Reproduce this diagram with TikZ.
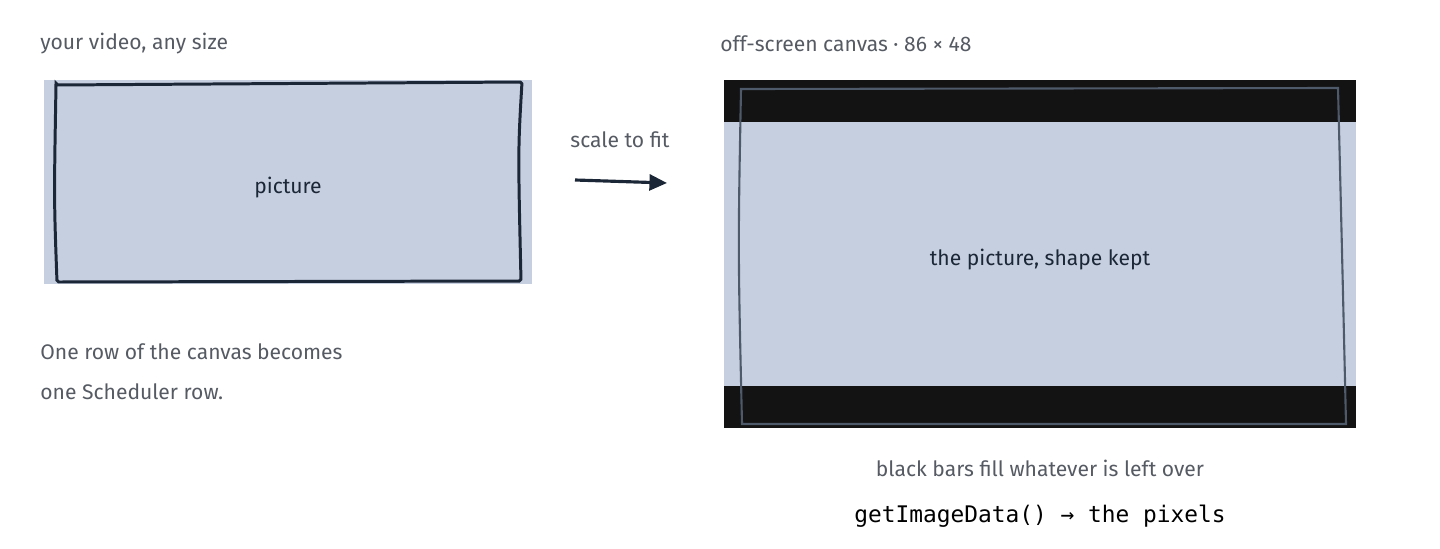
\documentclass[tikz,border=0pt]{standalone}
\usepackage{fontspec}
\setmainfont{Fira Sans}
\setmonofont{DejaVu Sans Mono}
\usetikzlibrary{arrows.meta,positioning}
\definecolor{paper}{HTML}{C5CFE0}
\definecolor{ink}{HTML}{1B2636}
\definecolor{note}{HTML}{555A63}
\definecolor{bar}{HTML}{131313}
\tikzset{
    label text/.style = {font=\fontsize{12}{14}\selectfont, text=note, anchor=west, inner sep=0pt},
    box text/.style = {font=\fontsize{12}{14}\selectfont, text=ink, inner sep=0pt},
    sketch/.style = {draw=ink, line width=1.7pt, rounded corners=1pt}
}
\begin{document}
\begin{tikzpicture}[x=0.02cm, y=-0.02cm]
    \useasboundingbox (0,0) rectangle (1440,548);

%left picture
    \fill[paper] (44,80) rectangle (532,284);
    \draw[sketch] (56,85) -- (522,82) .. controls (518,150) .. (521,281)
        -- (57,282) .. controls (54,200) .. (56,85) -- cycle;
    \node[box text] (pic) at (288,188) {picture};

%labels
    \node[label text] (video) at (40,44) {your video, any size};
    \node[label text] (row1) at (40,352) {One row of the canvas becomes};
    \node[label text] (row2) at (40,392) {one Scheduler row.};

%arrow
    \node[label text, anchor=center] (scale) at (620,140) {scale to fit};
    \coordinate (a0) at (575,180);
    \coordinate (a1) at (667,183);
    \draw[ink, line width=1.8pt, -{Triangle[length=10pt,width=9pt]}] (a0) -- (a1);

%canvas
    \node[label text] (canvas) at (720,44) {off-screen canvas · 86 × 48};
    \fill[bar] (724,80) rectangle (1356,428);
    \fill[paper] (724,122) rectangle (1356,386);
    \draw[draw=ink!70!paper, line width=1.2pt] (741,89) -- (1338,88)
        .. controls (1342,250) .. (1346,424) -- (742,424)
        .. controls (738,250) .. (741,89) -- cycle;
    \node[box text] (kept) at (1040,260) {the picture, shape kept};

    \node[label text, anchor=center] (bars) at (1040,468) {black bars fill whatever is left over};
    \node[font=\ttfamily\fontsize{13}{15}\selectfont, text=black, inner sep=0pt] (data) at (1040,516) {getImageData() → the pixels};
\end{tikzpicture}
\end{document}
